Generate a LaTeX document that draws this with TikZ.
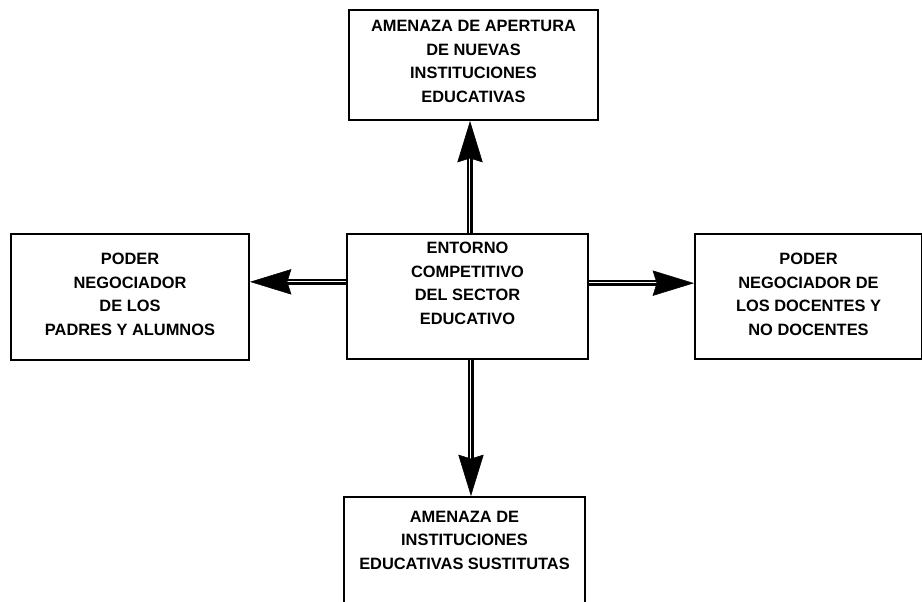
\documentclass[tikz,border=0pt]{standalone}
\usepackage{fontspec}
\setmainfont{Liberation Sans}
\usetikzlibrary{arrows.meta, positioning}

\begin{document}
\begin{tikzpicture}[
    x=0.75pt, y=-0.75pt,
    box/.style={rectangle, draw, line width=1.5pt, inner sep=0pt},
    txt/.style={inner sep=0pt, align=center,
                font=\bfseries\fontsize{12.3}{17.6}\selectfont},
    shaft/.style={draw, double, double distance=1.9pt, line width=1.3pt,
                  shorten >=26pt},
    head/.style={-{Stealth[length=31pt, width=19pt, inset=3pt]},
                 line width=0.4pt},
]
    \useasboundingbox (0,0) rectangle (922,601);

    \node[box, minimum width=180.75pt, minimum height=93.75pt] (centro) at (467.5,296.5) {};
    \node[box, minimum width=186.75pt, minimum height=82.5pt,
          above=84pt of centro, xshift=4.5pt] (apertura) {};
    \node[box, minimum width=178.5pt, minimum height=94.5pt,
          left=72pt of centro] (padres) {};
    \node[box, minimum width=170.25pt, minimum height=93.75pt,
          right=78.75pt of centro] (docentes) {};
    \node[box, minimum width=180.75pt, minimum height=93.75pt,
          below=102pt of centro, xshift=-2.25pt] (sustitutas) {};

    % textos, arriba dentro de cada caja
    \node[txt, below=6.8pt of centro.north] (centroT)
        {ENTORNO\\COMPETITIVO\\DEL SECTOR\\EDUCATIVO};
    \node[txt, below=8.3pt of apertura.north] (aperturaT)
        {AMENAZA DE APERTURA\\DE NUEVAS\\INSTITUCIONES\\EDUCATIVAS};
    \node[txt, below=15.5pt of padres.north] (padresT)
        {PODER\\NEGOCIADOR\\DE LOS\\PADRES Y ALUMNOS};
    \node[txt, below=15pt of docentes.north] (docentesT)
        {PODER\\NEGOCIADOR DE\\LOS DOCENTES Y\\NO DOCENTES};
    \node[txt, below=11pt of sustitutas.north] (sustitutasT)
        {AMENAZA DE\\INSTITUCIONES\\EDUCATIVAS SUSTITUTAS};

    % flechas dobles
    \draw[shaft] ([xshift=1.9pt]centro.north) -- ([xshift=1.9pt]centro.north |- apertura.south);
    \draw[head]  ([xshift=1.9pt]centro.north) -- ([xshift=1.9pt]centro.north |- apertura.south);
    \draw[shaft] ([yshift=11pt]centro.west) -- ([yshift=11pt]centro.west -| padres.east);
    \draw[head]  ([yshift=11pt]centro.west) -- ([yshift=11pt]centro.west -| padres.east);
    \draw[shaft] ([yshift=10pt]centro.east) -- ([yshift=10pt]centro.east -| docentes.west);
    \draw[head]  ([yshift=10pt]centro.east) -- ([yshift=10pt]centro.east -| docentes.west);
    \draw[shaft] ([xshift=2.6pt]centro.south) -- ([xshift=2.6pt]centro.south |- sustitutas.north);
    \draw[head]  ([xshift=2.6pt]centro.south) -- ([xshift=2.6pt]centro.south |- sustitutas.north);
\end{tikzpicture}
\end{document}
